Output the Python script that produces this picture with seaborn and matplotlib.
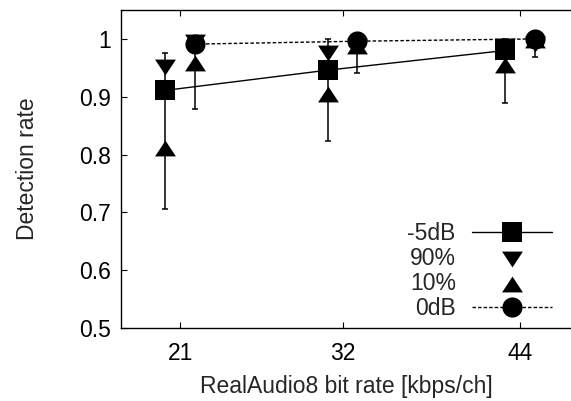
"""Detection rate vs RealAudio8 bit rate, -5dB and 0dB groups."""

import numpy as np
import seaborn as sns
import matplotlib.pyplot as plt

rates = [21, 32, 44]

# -5dB group (drawn slightly left of each rate)
m5_mean = [0.911, 0.946, 0.980]
m5_lo = [0.706, 0.824, 0.890]
m5_hi = [0.975, 0.999, 0.999]
m5_p90 = [0.952, 0.976, 0.987]
m5_p10 = [0.812, 0.905, 0.955]

# 0dB group (drawn slightly right of each rate)
d0_mean = [0.991, 0.996, 1.000]
d0_lo = [0.879, 0.941, 0.968]
d0_hi = [1.000, 1.000, 1.000]
d0_p90 = [0.994, 0.987, 0.991]
d0_p10 = [0.959, 0.988, 0.998]

sns.set_style("ticks")
plt.rcParams["font.family"] = ["Liberation Sans", "DejaVu Sans"]
plt.rcParams["font.size"] = 16.5

OFF = 1.0
x5 = np.array(rates) - OFF
x0 = np.array(rates) + OFF

TRI_DOWN = [(-1, 0.76), (1, 0.76), (0, -0.76), (-1, 0.76)]
TRI_UP = [(-1, -0.76), (1, -0.76), (0, 0.76), (-1, -0.76)]

fig = plt.figure(figsize=(5.71, 4.01), dpi=100)
ax = fig.add_axes([121 / 571, 73 / 401, 1 - 121 / 571, 318 / 401])

for xs, mean, lo, hi in [(x5, m5_mean, m5_lo, m5_hi), (x0, d0_mean, d0_lo, d0_hi)]:
    mean = np.array(mean)
    ax.errorbar(xs, mean, yerr=[mean - np.array(lo), np.array(hi) - mean],
                fmt="none", ecolor="black", elinewidth=1.1,
                capsize=2.3, capthick=1.1, zorder=2)

sns.lineplot(x=x5, y=m5_mean, ax=ax, color="black", lw=1.0, marker="s",
             markersize=15, markeredgewidth=0, label="-5dB", zorder=4)
all_x = np.concatenate([x5, x0])
sns.scatterplot(x=all_x, y=m5_p90 + d0_p90, ax=ax, marker=TRI_DOWN, s=225,
                color="black", linewidth=0, label="90%", zorder=3)
sns.scatterplot(x=all_x, y=m5_p10 + d0_p10, ax=ax, marker=TRI_UP, s=225,
                color="black", linewidth=0, label="10%", zorder=3)
sns.lineplot(x=x0, y=d0_mean, ax=ax, color="black", lw=1.0,
             linestyle=(0, (2.5, 1.5)), marker="o", markersize=14.5,
             markeredgewidth=0, label="0dB", zorder=5)

ax.set_xlim(17, 47.45)
ax.set_ylim(0.5, 1.05)
ax.set_xticks(rates)
ax.set_yticks([0.5, 0.6, 0.7, 0.8, 0.9, 1.0])
ax.set_yticklabels(["0.5", "0.6", "0.7", "0.8", "0.9", "1"])
ax.tick_params(direction="in", length=4, width=0.8, top=True, labelsize=16.5,
               pad=7, colors="black")
ax.tick_params(axis="x", pad=10)
for s in ["left", "bottom", "top"]:
    ax.spines[s].set_linewidth(1.0)
    ax.spines[s].set_color("black")
ax.spines["right"].set_visible(False)

ax.set_xlabel("RealAudio8 bit rate [kbps/ch]", fontsize=16.5, labelpad=7)
ax.set_ylabel("Detection rate", fontsize=16.5, labelpad=29)

ax.legend(loc="lower right", bbox_to_anchor=(552 / 571, 81 / 401),
          bbox_transform=fig.transFigure, frameon=False, markerfirst=False,
          borderpad=0, borderaxespad=0, labelspacing=0.08, handlelength=3.5,
          handletextpad=0.7, fontsize=16.5)

fig.savefig("out.png", dpi=100)
